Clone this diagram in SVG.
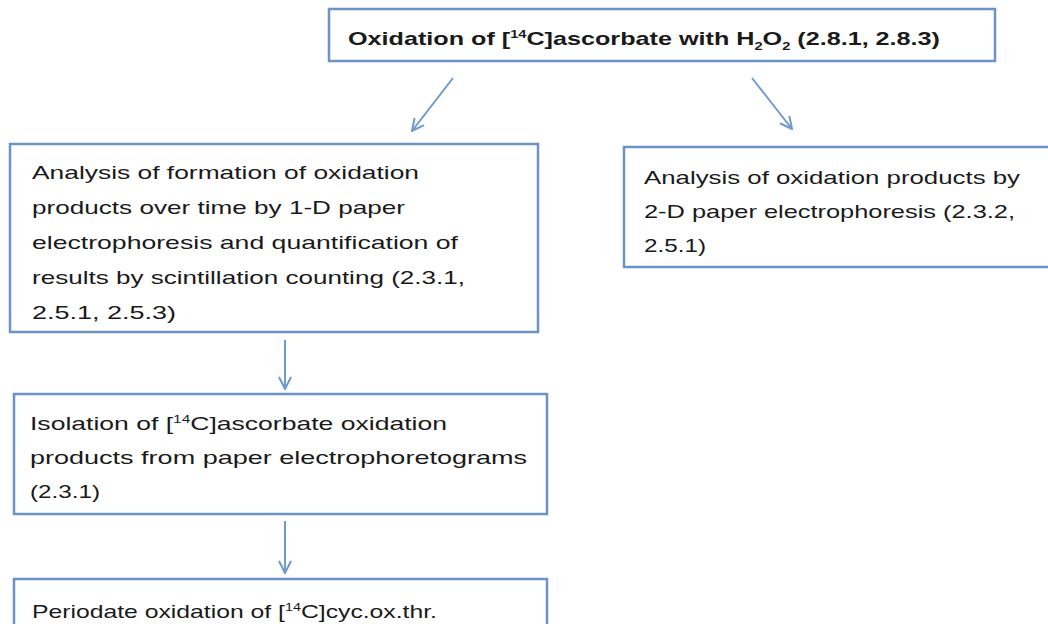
<svg xmlns="http://www.w3.org/2000/svg" width="1048" height="624" viewBox="0 0 1048 624">
  <style>
    .box { fill: #ffffff; stroke: #6b93c6; stroke-width: 2.5; }
    .t { font-family: "Liberation Sans", Arial, sans-serif; font-size: 19px; fill: #1a1a1a; }
    .b { font-weight: bold; }
    .sup { font-size: 11px; }
    .conn { fill: none; stroke: #7099cc; stroke-width: 2; }
  </style>
  <defs>
    <marker id="head" viewBox="0 0 14 14" refX="13" refY="7" markerWidth="14" markerHeight="14" markerUnits="userSpaceOnUse" orient="auto">
      <path d="M1,1 L13,7 L1,13" fill="none" stroke="#7099cc" stroke-width="2"/>
    </marker>
  </defs>
  <rect width="1048" height="624" fill="#ffffff"/>

  <g id="connectors">
    <line class="conn" x1="453" y1="78" x2="412" y2="131" marker-end="url(#head)"/>
    <line class="conn" x1="752" y1="78" x2="792" y2="129" marker-end="url(#head)"/>
    <line class="conn" x1="285" y1="340" x2="285" y2="389" marker-end="url(#head)"/>
    <line class="conn" x1="285" y1="521" x2="285" y2="573" marker-end="url(#head)"/>
  </g>

  <g id="node-oxidation">
    <rect class="box" x="329" y="9" width="666" height="52"/>
    <text class="t b" x="348" y="45" textLength="592" lengthAdjust="spacingAndGlyphs">Oxidation of [<tspan class="sup" dy="-7">14</tspan><tspan dy="7">C]ascorbate with H</tspan><tspan class="sup" dy="5">2</tspan><tspan dy="-5">O</tspan><tspan class="sup" dy="5">2</tspan><tspan dy="-5"> (2.8.1, 2.8.3)</tspan></text>
  </g>

  <g id="node-1d-analysis">
    <rect class="box" x="10" y="144" width="528" height="188"/>
    <text class="t" x="32" y="179" textLength="387" lengthAdjust="spacingAndGlyphs">Analysis of formation of oxidation</text>
    <text class="t" x="32" y="214" textLength="373" lengthAdjust="spacingAndGlyphs">products over time by 1-D paper</text>
    <text class="t" x="32" y="249" textLength="426" lengthAdjust="spacingAndGlyphs">electrophoresis and quantification of</text>
    <text class="t" x="32" y="284" textLength="433" lengthAdjust="spacingAndGlyphs">results by scintillation counting (2.3.1,</text>
    <text class="t" x="32" y="319" textLength="144" lengthAdjust="spacingAndGlyphs">2.5.1, 2.5.3)</text>
  </g>

  <g id="node-2d-analysis">
    <rect class="box" x="624" y="147" width="440" height="120"/>
    <text class="t" x="644" y="184" textLength="376" lengthAdjust="spacingAndGlyphs">Analysis of oxidation products by</text>
    <text class="t" x="644" y="218" textLength="371" lengthAdjust="spacingAndGlyphs">2-D paper electrophoresis (2.3.2,</text>
    <text class="t" x="644" y="252" textLength="62" lengthAdjust="spacingAndGlyphs">2.5.1)</text>
  </g>

  <g id="node-isolation">
    <rect class="box" x="14" y="394" width="533" height="120"/>
    <text class="t" x="30" y="430" textLength="417" lengthAdjust="spacingAndGlyphs">Isolation of [<tspan class="sup" dy="-7">14</tspan><tspan dy="7">C]ascorbate oxidation</tspan></text>
    <text class="t" x="30" y="464" textLength="497" lengthAdjust="spacingAndGlyphs">products from paper electrophoretograms</text>
    <text class="t" x="30" y="498" textLength="70" lengthAdjust="spacingAndGlyphs">(2.3.1)</text>
  </g>

  <g id="node-periodate">
    <rect class="box" x="14" y="579" width="533" height="80"/>
    <text class="t" x="32" y="618" textLength="405" lengthAdjust="spacingAndGlyphs">Periodate oxidation of [<tspan class="sup" dy="-7">14</tspan><tspan dy="7">C]cyc.ox.thr.</tspan></text>
  </g>
</svg>
